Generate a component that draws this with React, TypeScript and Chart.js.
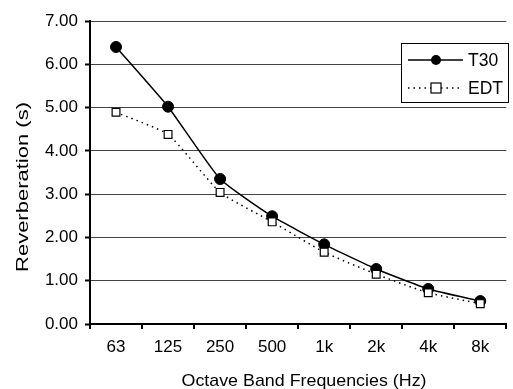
import React, { useEffect, useRef } from "react";
import { Chart, registerables } from "chart.js";

Chart.register(...registerables);

const categories = ["63", "125", "250", "500", "1k", "2k", "4k", "8k"];
const t30Values = [6.4, 5.02, 3.35, 2.49, 1.84, 1.27, 0.81, 0.53];
const edtValues = [4.89, 4.38, 3.04, 2.36, 1.66, 1.15, 0.72, 0.47];
const seriesNames = ["T30", "EDT"];
const yTitle = "Reverberation (s)";
const xTitle = "Octave Band Frequencies (Hz)";

const FONT = "'Liberation Sans', Arial, sans-serif";

const titlesPlugin = {
  id: "customTitles",
  afterDraw(chart: any) {
    const ctx = chart.ctx as CanvasRenderingContext2D;
    ctx.save();
    ctx.fillStyle = "#000";
    ctx.font = `17px ${FONT}`;
    ctx.textAlign = "center";
    ctx.textBaseline = "alphabetic";
    const xw = ctx.measureText(xTitle).width;
    ctx.save();
    ctx.translate(304, 386);
    ctx.scale(245 / xw, 1);
    ctx.fillText(xTitle, 0, 0);
    ctx.restore();
    const yw = ctx.measureText(yTitle).width;
    ctx.save();
    ctx.translate(28, 187);
    ctx.rotate(-Math.PI / 2);
    ctx.scale(170 / yw, 1);
    ctx.fillText(yTitle, 0, 0);
    ctx.restore();
    ctx.restore();
  },
};

const legendPlugin = {
  id: "customLegend",
  afterDraw(chart: any) {
    const ctx = chart.ctx as CanvasRenderingContext2D;
    const x0 = 401, y0 = 43, w = 107, h = 59;
    ctx.save();
    ctx.fillStyle = "#fff";
    ctx.fillRect(x0, y0, w, h);
    ctx.strokeStyle = "#000";
    ctx.lineWidth = 1;
    ctx.strokeRect(x0 + 0.5, y0 + 0.5, w, h);
    const rows = [60, 88];
    chart.data.datasets.forEach((ds: any, i: number) => {
      const y = rows[i];
      ctx.strokeStyle = "#000";
      ctx.lineWidth = 1.5;
      ctx.setLineDash(ds.borderDash || []);
      ctx.beginPath();
      ctx.moveTo(408, y);
      ctx.lineTo(463, y);
      ctx.stroke();
      ctx.setLineDash([]);
      if (ds.pointStyle === "circle") {
        ctx.fillStyle = "#000";
        ctx.beginPath();
        ctx.arc(436, y, 5, 0, Math.PI * 2);
        ctx.fill();
      } else {
        ctx.fillStyle = "#fff";
        ctx.lineWidth = 1.2;
        ctx.fillRect(431, y - 5, 10, 10);
        ctx.strokeRect(431, y - 5, 10, 10);
      }
      ctx.fillStyle = "#000";
      ctx.font = `17.5px ${FONT}`;
      ctx.textAlign = "left";
      ctx.textBaseline = "middle";
      ctx.fillText(ds.label, 468, y + 1);
    });
    ctx.restore();
  },
};

export default function App() {
  const ref = useRef<HTMLCanvasElement>(null);
  useEffect(() => {
    if (!ref.current) return;
    const chart = new Chart(ref.current, {
      type: "line",
      data: {
        labels: categories,
        datasets: [
          {
            label: seriesNames[0],
            data: t30Values,
            borderColor: "#000",
            borderWidth: 1.5,
            backgroundColor: "#000",
            pointStyle: "circle",
            pointRadius: 5.5,
            pointBorderWidth: 1,
            pointBorderColor: "#000",
            pointBackgroundColor: "#000",
            tension: 0.15,
            order: 1,
          },
          {
            label: seriesNames[1],
            data: edtValues,
            borderColor: "#000",
            borderWidth: 1.5,
            borderDash: [1.5, 4],
            backgroundColor: "#fff",
            pointStyle: "rect",
            pointRadius: 5.5,
            pointBorderWidth: 1.2,
            pointBorderColor: "#000",
            pointBackgroundColor: "#fff",
            tension: 0.15,
            order: 0,
          } as any,
        ],
      },
      options: {
        animation: false,
        responsive: false,
        layout: { padding: { left: 0, top: 21, right: 0, bottom: 0 } },
        plugins: { legend: { display: false }, tooltip: { enabled: false } },
        scales: {
          x: {
            type: "category",
            offset: true,
            grid: {
              display: true,
              offset: true,
              drawOnChartArea: false,
              drawTicks: true,
              tickLength: 5,
              color: "#000",
              lineWidth: 2,
            },
            border: { display: true, color: "#000", width: 2 },
            ticks: { color: "#000", font: { family: FONT, size: 17 }, padding: 8 },
            afterFit: (s: any) => {
              s.height = 65;
            },
          },
          y: {
            min: 0,
            max: 7,
            ticks: {
              stepSize: 1,
              color: "#000",
              font: { family: FONT, size: 17 },
              padding: 7,
              callback: (v: any) => Number(v).toFixed(2),
            },
            grid: {
              color: "#444",
              lineWidth: 1,
              tickLength: 5,
              tickColor: "#000",
              tickWidth: 2,
            },
            border: { display: true, color: "#000", width: 2 },
            afterFit: (s: any) => {
              s.width = 90;
            },
          },
        },
      },
      plugins: [titlesPlugin, legendPlugin],
    });
    return () => chart.destroy();
  }, []);
  return (
    <div style={{ position: "absolute", left: 0, top: 0, width: 513, height: 389 }}>
      <canvas ref={ref} width={513} height={389} />
    </div>
  );
}
